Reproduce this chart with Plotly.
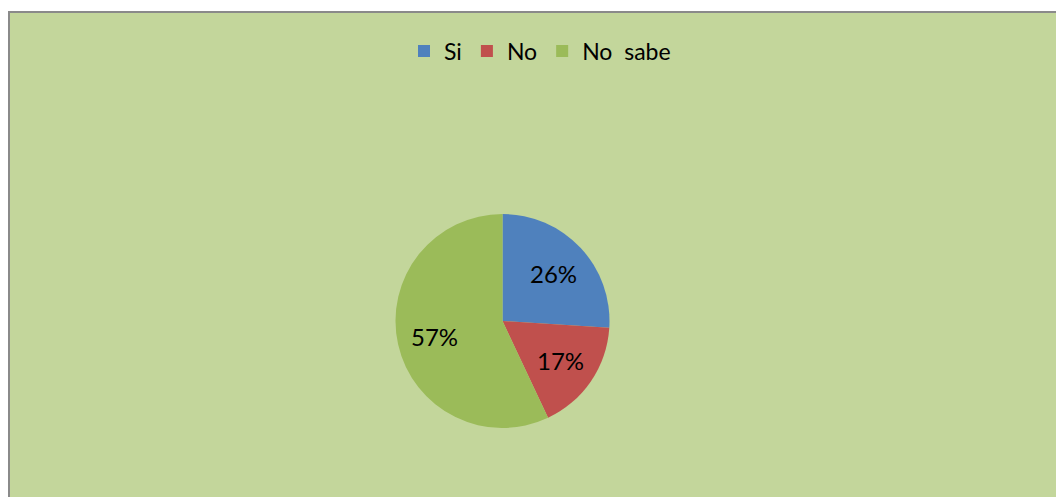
import math
import plotly.graph_objects as go

# Survey answers and their shares
categories = ["Si", "No", "No\u00a0 sabe"]
values = [26, 17, 57]
slice_colors = ["#4F81BD", "#C0504D", "#9BBB59"]

W, H = 1056, 497
CX, CY, R = 502.5, 321.0, 107.0   # pie centre / radius in pixels

fig = go.Figure(
    go.Pie(
        labels=categories,
        values=values,
        sort=False,
        direction="clockwise",
        rotation=0,
        marker=dict(colors=slice_colors, line=dict(width=0)),
        textinfo="none",
        hoverinfo="label+percent",
        domain=dict(x=[(CX - R) / W, (CX + R) / W],
                    y=[(H - CY - R) / H, (H - CY + R) / H]),
    )
)

# Percentage labels placed along each slice's bisector
total = sum(values)
start = 0.0
for v in values:
    frac = v / total
    mid = (start + frac / 2) * 2 * math.pi      # clockwise from 12 o'clock
    start += frac
    px = CX + 0.65 * R * math.sin(mid)
    py = CY - 0.65 * R * math.cos(mid)
    fig.add_annotation(
        x=px / W, y=1 - py / H, xref="paper", yref="paper",
        text=f"{round(frac * 100)}%", showarrow=False,
        xanchor="center", yanchor="middle",
        font=dict(family="Lato", size=24, color="#000000"),
    )

# Chart area: light green panel with a grey frame
fig.add_shape(
    type="rect", xref="paper", yref="paper",
    x0=9 / W, x1=1.02, y0=-0.02, y1=1 - 12 / H,
    fillcolor="#C3D69B", line=dict(color="#8A8A8A", width=2),
    layer="below",
)

fig.update_layout(
    width=W, height=H,
    margin=dict(l=0, r=0, t=0, b=0),
    paper_bgcolor="#FFFFFF",
    plot_bgcolor="rgba(0,0,0,0)",
    showlegend=True,
    legend=dict(
        orientation="h",
        x=540 / W, xanchor="center",
        y=1 - 51 / H, yanchor="middle",
        font=dict(family="Lato", size=23, color="#000000"),
        bgcolor="rgba(0,0,0,0)",
        itemwidth=30,
    ),
)

fig.write_html("out.html")
